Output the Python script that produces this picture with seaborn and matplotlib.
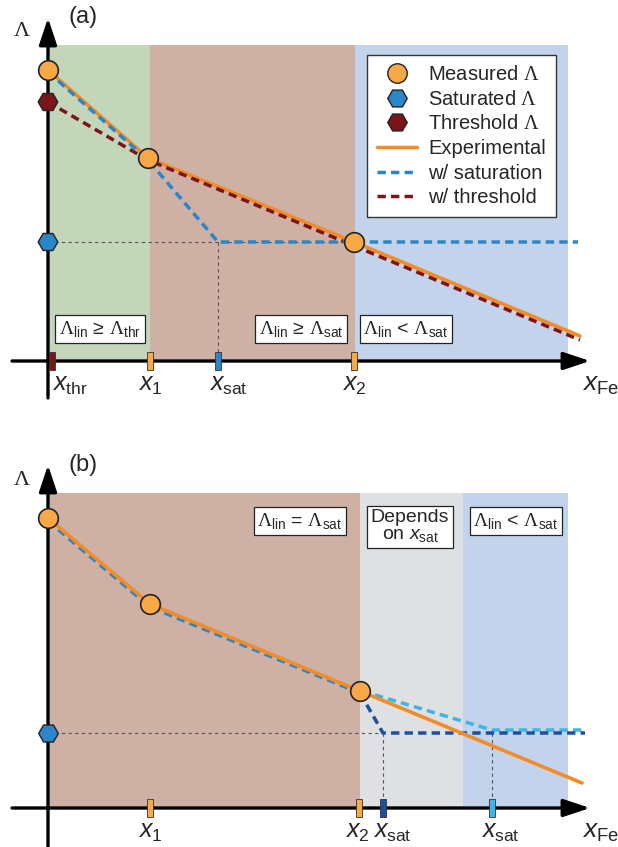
"""
Sketch of the Lambda vs x_Fe schematic, panels (a) and (b).
"""

# %% ---- Requirements and constants
import numpy as np
import seaborn as sns
import matplotlib.pyplot as plt
from matplotlib.lines import Line2D

sns.set_theme(style='white')
plt.rcParams['font.family'] = ['Liberation Sans', 'DejaVu Sans']
plt.rcParams['mathtext.fontset'] = 'custom'
plt.rcParams['mathtext.rm'] = 'Liberation Serif'
plt.rcParams['mathtext.it'] = 'Liberation Sans:italic'
plt.rcParams['mathtext.sf'] = 'Liberation Sans'
plt.rcParams['mathtext.bf'] = 'Liberation Sans:bold'

ORANGE = '#f28c28'
ORANGE_FACE = '#f8a946'
BLUE = '#2a86c9'
DARK_RED = '#7a1518'
DARK_BLUE = '#1c4f9c'
LIGHT_BLUE = '#3bb6e6'
HELPER = '#555555'

# ---- panel (a) data
a_meas_x = [0.0, 1.00, 3.06]
a_meas_y = [2.91, 2.03, 1.19]
a_exp_x = [0.0, 1.00, 3.06, 5.32]
a_exp_y = [2.91, 2.03, 1.19, 0.25]
a_sat_x = [0.0, 1.00, 1.70, 5.30]
a_sat_y = [2.89, 2.01, 1.19, 1.19]
a_thr_x = [0.0, 1.00, 5.32]
a_thr_y = [2.59, 2.01, 0.21]
a_sat_level = 1.19
a_thr_level = 2.59
a_x_sat = 1.70
a_x2 = 3.06
a_band_edges = [0.0, 1.02, 3.07, 5.20]
a_band_colors = ['#c4d6ba', '#cfb0a5', '#c4d3ec']
a_tick_x = [0.04, 1.02, 1.70, 3.06]
a_tick_colors = [DARK_RED, ORANGE_FACE, BLUE, ORANGE_FACE]
a_tick_labels = [r'$x_{\mathsf{thr}}$', r'$x_{\mathsf{1}}$',
                 r'$x_{\mathsf{sat}}$', r'$x_{\mathsf{2}}$']
a_label_x = [0.22, 1.02, 1.80, 3.06]
a_box_x = [0.52, 2.53, 3.58]
a_box_text = [r'$\Lambda_{\mathsf{lin}}$ ≥ $\Lambda_{\mathsf{thr}}$',
              r'$\Lambda_{\mathsf{lin}}$ ≥ $\Lambda_{\mathsf{sat}}$',
              r'$\Lambda_{\mathsf{lin}}$ < $\Lambda_{\mathsf{sat}}$']

# ---- panel (b) data
b_meas_x = [0.0, 1.02, 3.12]
b_meas_y = [2.90, 2.04, 1.17]
b_exp_x = [0.0, 1.02, 3.12, 5.34]
b_exp_y = [2.90, 2.04, 1.17, 0.25]
b_sat_x = [0.0, 1.02, 3.12]
b_sat_y = [2.87, 2.01, 1.15]
b_dark_x = [3.12, 3.35, 5.37]
b_dark_y = [1.15, 0.75, 0.75]
b_light_x = [3.14, 4.44, 5.37]
b_light_y = [1.17, 0.78, 0.78]
b_sat_level = 0.75
b_band_edges = [0.0, 3.12, 4.15, 5.20]
b_band_colors = ['#cfb0a5', '#dfe0e2', '#c4d3ec']
b_tick_x = [1.02, 3.11, 3.35, 4.44]
b_tick_colors = [ORANGE_FACE, ORANGE_FACE, DARK_BLUE, LIGHT_BLUE]
b_tick_labels = [r'$x_{\mathsf{1}}$', r'$x_{\mathsf{2}}$',
                 r'$x_{\mathsf{sat}}$', r'$x_{\mathsf{sat}}$']
b_label_x = [1.02, 3.09, 3.44, 4.52]
b_box_x = [2.52, 3.62, 4.68]
b_box_text = [r'$\Lambda_{\mathsf{lin}}$ = $\Lambda_{\mathsf{sat}}$',
              'Depends\non $x_{\\mathsf{sat}}$',
              r'$\Lambda_{\mathsf{lin}}$ < $\Lambda_{\mathsf{sat}}$']

DASH = (0, (2.4, 1.5))
TICK_MARK = [(-0.3, -1), (0.3, -1), (0.3, 1), (-0.3, 1), (-0.3, -1)]


# %% ---- Function and class
def draw_frame(ax, band_edges, band_colors, top, y_low, letter, letter_y):
    for x0, x1, c in zip(band_edges[:-1], band_edges[1:], band_colors):
        ax.fill_between([x0, x1], 0, top, color=c, lw=0, zorder=0)

    arrow = dict(arrowstyle='-|>,head_length=0.6,head_width=0.2',
                 color='black', lw=2.4, mutation_scale=27,
                 shrinkA=0, shrinkB=0)
    ax.annotate('', xy=(5.42, 0), xytext=(-0.36, 0), arrowprops=arrow,
                zorder=4)
    ax.annotate('', xy=(0, 3.43), xytext=(0, y_low), arrowprops=arrow,
                zorder=4)

    ax.text(-0.26, letter_y - 0.14, r'$\Lambda$', fontsize=16,
            ha='center', va='center')
    ax.text(0.35, letter_y, letter, fontsize=17, ha='center', va='center')
    ax.text(5.52, -0.24, r'$x_{\mathsf{Fe}}$', fontsize=19,
            ha='center', va='center')


def line(ax, xs, ys, color, dashed=False, lw=2.5, z=3):
    kw = dict(linestyle=DASH) if dashed else {}
    sns.lineplot(x=xs, y=ys, ax=ax, color=color, lw=lw, sort=False,
                 estimator=None, zorder=z, **kw)


def ticks(ax, xs, colors, labels, label_x):
    sns.scatterplot(x=xs, y=np.zeros(len(xs)), ax=ax, hue=list(range(len(xs))),
                    palette=colors, marker=TICK_MARK, s=170,
                    edgecolor='#333333', linewidth=0.6, legend=False, zorder=6)
    for lx, lab in zip(label_x, labels):
        ax.text(lx, -0.24, lab, fontsize=18, ha='center', va='center')


def boxes(ax, xs, texts, y, va):
    for bx, t in zip(xs, texts):
        ax.text(bx, y, t, fontsize=14, ha='center', va=va,
                multialignment='center', linespacing=1.0, zorder=7,
                bbox=dict(boxstyle='square,pad=0.2', fc='white',
                          ec='#222222', lw=0.9))


# %% ---- Play ground
fig = plt.figure(figsize=(6.18, 8.47), dpi=100)
ax_a = fig.add_axes([0, 0.5, 1, 0.5])
ax_b = fig.add_axes([0, 0.0, 1, 0.5])
ax_a.set_xlim(-0.48, 5.70)
ax_a.set_ylim(-0.625, 3.61)
ax_b.set_xlim(-0.48, 5.70)
ax_b.set_ylim(-0.39, 3.845)
for ax in (ax_a, ax_b):
    ax.set_axis_off()

# ---- panel (a)
ax = ax_a
draw_frame(ax, a_band_edges, a_band_colors, 3.16, -0.37, '(a)', 3.44)
ax.plot([0, a_x2], [a_sat_level, a_sat_level], color=HELPER, lw=0.8,
        ls=(0, (3, 3)), zorder=1)
ax.plot([a_x_sat, a_x_sat], [a_sat_level, 0], color=HELPER, lw=0.8,
        ls=(0, (3, 3)), zorder=1)
line(ax, a_exp_x, a_exp_y, ORANGE, lw=2.6, z=2)
line(ax, a_thr_x, a_thr_y, DARK_RED, dashed=True, z=3)
line(ax, a_sat_x, a_sat_y, BLUE, dashed=True, z=3)
sns.scatterplot(x=a_meas_x, y=a_meas_y, ax=ax, marker='o', s=200,
                color=ORANGE_FACE, edgecolor='#222222', linewidth=1.2,
                zorder=5)
sns.scatterplot(x=[0, 0], y=[a_sat_level, a_thr_level], ax=ax, marker='H',
                s=200, hue=['s', 't'], palette=[BLUE, DARK_RED],
                edgecolor='#222222', linewidth=1.0, legend=False, zorder=5)
ticks(ax, a_tick_x, a_tick_colors, a_tick_labels, a_label_x)
boxes(ax, a_box_x, a_box_text, 0.32, 'center')

handles = [
    Line2D([], [], ls='', marker='o', ms=14, mfc=ORANGE_FACE, mec='#222222',
           mew=1.0, label=r'Measured $\Lambda$'),
    Line2D([], [], ls='', marker='H', ms=14, mfc=BLUE, mec='#222222',
           mew=1.0, label=r'Saturated $\Lambda$'),
    Line2D([], [], ls='', marker='H', ms=14, mfc=DARK_RED, mec='#222222',
           mew=1.0, label=r'Threshold $\Lambda$'),
    Line2D([], [], color=ORANGE, lw=2.5, label='Experimental'),
    Line2D([], [], color=BLUE, lw=2.5, ls=DASH, label='w/ saturation'),
    Line2D([], [], color=DARK_RED, lw=2.5, ls=DASH, label='w/ threshold'),
]
leg = ax.legend(handles=handles, loc='upper left', bbox_to_anchor=(3.19, 3.06),
                bbox_transform=ax.transData, fontsize=14.5, frameon=True,
                fancybox=False, framealpha=1, edgecolor='#333333',
                handlelength=2.0, handletextpad=0.55, labelspacing=0.28,
                borderpad=0.5, borderaxespad=0)
leg.get_frame().set_linewidth(1.0)
leg.set_zorder(8)

# ---- panel (b)
ax = ax_b
draw_frame(ax, b_band_edges, b_band_colors, 3.15, -0.39, '(b)', 3.43)
ax.plot([0, 3.35], [b_sat_level, b_sat_level], color=HELPER, lw=0.8,
        ls=(0, (3, 3)), zorder=1)
for vx in (3.35, 4.44):
    ax.plot([vx, vx], [b_sat_level, 0], color=HELPER, lw=0.8,
            ls=(0, (3, 3)), zorder=1)
line(ax, b_light_x, b_light_y, LIGHT_BLUE, dashed=True, z=2)
line(ax, b_dark_x, b_dark_y, DARK_BLUE, dashed=True, z=2)
line(ax, b_sat_x, b_sat_y, BLUE, dashed=True, z=2)
line(ax, b_exp_x, b_exp_y, ORANGE, lw=2.6, z=3)
sns.scatterplot(x=b_meas_x, y=b_meas_y, ax=ax, marker='o', s=200,
                color=ORANGE_FACE, edgecolor='#222222', linewidth=1.2,
                zorder=5)
sns.scatterplot(x=[0], y=[b_sat_level], ax=ax, marker='H', s=200,
                color=BLUE, edgecolor='#222222', linewidth=1.0, zorder=5)
ticks(ax, b_tick_x, b_tick_colors, b_tick_labels, b_label_x)
boxes(ax, b_box_x[:1] + b_box_x[2:], b_box_text[:1] + b_box_text[2:],
      2.87, 'center')
boxes(ax, b_box_x[1:2], b_box_text[1:2], 2.99, 'top')

fig.savefig('out.png', dpi=100)
